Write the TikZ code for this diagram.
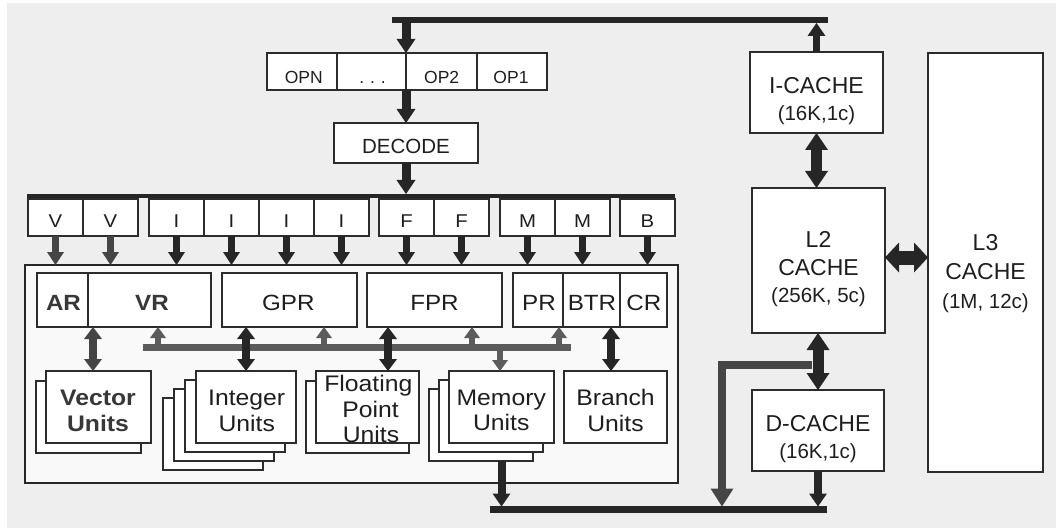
\documentclass[tikz,border=0pt]{standalone}
\usepackage{fontspec}
\setmainfont{Liberation Sans}
\newfontfamily\corefont[FakeStretch=1.1]{Liberation Sans}
\usetikzlibrary{arrows.meta}
\definecolor{bg}{HTML}{EEEEEE}
\definecolor{ink}{HTML}{1E1E1E}
\definecolor{boldink}{HTML}{383838}
\definecolor{edge}{HTML}{2C2C2C}
\definecolor{darkline}{HTML}{262626}
\definecolor{midgray}{HTML}{5C5C5C}
\definecolor{deepgray}{HTML}{454545}
\definecolor{corefill}{HTML}{F9F9F9}
% font sizes
\newcommand\fcore{\corefont\fontsize{22.5}{26}\selectfont}
\newcommand\freg{\corefont\fontsize{22}{26}\selectfont}
\newcommand\fslot{\corefont\fontsize{18.5}{20}\selectfont}
\newcommand\fop{\fontsize{17.5}{20}\selectfont}
\newcommand\fdec{\fontsize{20.5}{24}\selectfont}
\newcommand\fct{\fontsize{23}{27}\selectfont}
\newcommand\fcs{\fontsize{20.5}{24}\selectfont}
% rectangle node from its corners: name, x0, y0, x1, y1, extra options
\newcommand\Blk[6]{\node[blk,minimum width={(#4)-(#2)},minimum height={(#5)-(#3)},#6] (#1) at ({((#2)+(#4))/2},{((#3)+(#5))/2}) {};}
\begin{document}
\begin{tikzpicture}[x=1pt,y=-1pt,
  blk/.style={draw=edge,line width=1.3pt,fill=white,inner sep=0pt,outer sep=0pt,rectangle},
  lbl/.style={anchor=base,inner sep=0pt,outer sep=0pt,text=ink},
  bar/.style={draw=darkline,line cap=butt},
  flow/.style={draw=darkline,line width=9pt,-{Triangle[width=19pt,length=14pt,line width=0pt]}},
  issue/.style={draw=darkline,line width=7.5pt,-{Triangle[width=17pt,length=13pt,line width=0pt]}},
  issuev/.style={issue,draw=deepgray},
  link/.style={draw=darkline,line width=7.5pt,{Triangle[width=18pt,length=12pt,line width=0pt]}-{Triangle[width=18pt,length=12pt,line width=0pt]}},
  linkv/.style={link,draw=deepgray},
  tap/.style={draw=midgray,line width=6pt,-{Triangle[width=16pt,length=11pt,line width=0pt]}},
  store/.style={draw=darkline,line width=8pt,-{Triangle[width=18pt,length=13pt,line width=0pt]}},
  cachelink/.style={draw=darkline,line width=11pt,{Triangle[width=23pt,length=17pt,line width=0pt]}-{Triangle[width=23pt,length=17pt,line width=0pt]}},
  widelink/.style={draw=darkline,line width=14pt,{Triangle[width=30pt,length=14pt,line width=0pt]}-{Triangle[width=30pt,length=14pt,line width=0pt]}},
  bypass/.style={draw=deepgray,line width=8pt,line join=miter,-{Triangle[width=23pt,length=18pt,line width=0pt]}}
]
\useasboundingbox (0,0) rectangle (1056,529);
\fill[bg] (7,3) rectangle (1056,528);

% ---------- instruction fetch buses ----------
\coordinate (tbw) at (392,20);
\coordinate (tbe) at (828,20);
\coordinate (tbout) at (406,23);
\draw[bar,line width=6pt] (tbw) -- (tbe);

% operand queue
\Blk{opn}{267}{53}{337}{90}{}
\Blk{opdots}{337}{53}{406}{90}{}
\Blk{optwo}{406}{53}{477}{90}{}
\Blk{opone}{477}{53}{547}{90}{}
\node[lbl,font=\fop] (opnt) at (303.8,83.3) {OPN};
\node[lbl,font=\fop] (opdotst) at (372.5,83.3) {.\,\,.\,\,.};
\node[lbl,font=\fop] (optwot) at (441.7,83.3) {OP2};
\node[lbl,font=\fop] (oponet) at (511,83.3) {OP1};

% decoder
\Blk{decode}{334}{123}{478}{163}{}
\node[lbl,font=\fdec] (decodet) at (406,154) {DECODE};

\draw[flow] (tbout) -- (opdots.north east);
\draw[flow] (opdots.south east) -- (decode.north);

% issue bus
\coordinate (dbw) at (27,196);
\coordinate (dbe) at (675,196);
\coordinate (dbin) at (406,194);
\draw[bar,line width=4pt] (dbw) -- (dbe);
\draw[flow] (decode.south) -- (dbin);

% ---------- core ----------
\Blk{core}{25}{265}{678}{483}{fill=corefill,draw=darkline,line width=2.4pt}

% issue slots
\foreach \n/\t/\a in {v1/V/28,v2/V/83,i1/I/149,i2/I/204,i3/I/259,i4/I/314,f1/F/379,f2/F/434,m1/M/500,m2/M/555,b1/B/620}{
  \Blk{\n}{\a}{199}{\a+55}{236}{}
  \node[lbl,font=\fslot] (\n t) at ({\a+27.5},228) {\t};
}
\foreach \n in {v1,v2}{\draw[issuev] (\n.south) -- (\n.south |- core.north);}
\foreach \n in {i1,i2,i3,i4,f1,f2,m1,m2,b1}{\draw[issue] (\n.south) -- (\n.south |- core.north);}

% register files
\Blk{ar}{37}{273}{88}{327}{}
\Blk{vr}{88}{273}{211}{327}{}
\Blk{gpr}{222}{273}{357}{327}{}
\Blk{fpr}{367}{273}{502}{327}{}
\Blk{pr}{513}{273}{563}{327}{}
\Blk{btr}{563}{273}{620}{327}{}
\Blk{cr}{620}{273}{667}{327}{}
\node[lbl,font=\freg\bfseries,text=boldink] (art) at (63.5,310) {AR};
\node[lbl,font=\freg\bfseries,text=boldink] (vrt) at (152,310) {VR};
\node[lbl,font=\freg] (gprt) at (288.3,310) {GPR};
\node[lbl,font=\freg] (fprt) at (434.5,310) {FPR};
\node[lbl,font=\freg] (prt) at (539,310) {PR};
\node[lbl,font=\freg] (btrt) at (592,310) {BTR};
\node[lbl,font=\freg] (crt) at (643.8,310) {CR};

% internal transfer bus
\coordinate (ibw) at (143,347.5);
\coordinate (ibe) at (571,347.5);
\draw[bar,draw=midgray,line width=7pt] (ibw) -- (ibe);
\coordinate (ib1) at (158,344);
\coordinate (ib2) at (324,344);
\coordinate (ib3) at (472,344);
\coordinate (ib4) at (559,344);
\coordinate (ib5) at (500,351);
\draw[tap] (ib1) -- (ib1 |- vr.south);
\draw[tap] (ib2) -- (ib2 |- gpr.south);
\draw[tap] (ib3) -- (ib3 |- fpr.south);
\draw[tap] (ib4) -- (ib4 |- pr.south);

% execution units
\Blk{vecb}{36}{381}{141}{453}{}
\Blk{vecu}{46}{371}{151}{443}{}
\Blk{intb3}{163}{398}{263}{470}{}
\Blk{intb2}{174}{389}{274}{461}{}
\Blk{intb1}{185}{380}{285}{452}{}
\Blk{intu}{196}{371}{296}{443}{}
\Blk{fpb}{306}{381}{409}{453}{}
\Blk{fpu}{316}{371}{419}{443}{}
\Blk{memb2}{429}{389}{533}{461}{}
\Blk{memb1}{439}{380}{543}{452}{}
\Blk{memu}{449}{371}{554}{443}{}
\Blk{bru}{564}{371}{667}{443}{}

\node[lbl,font=\fcore\bfseries,text=boldink] (vect1) at (98,405) {Vector};
\node[lbl,font=\fcore\bfseries,text=boldink] (vect2) at (98,431.7) {Units};
\node[lbl,font=\fcore] (intt1) at (246.7,405) {Integer};
\node[lbl,font=\fcore] (intt2) at (246.7,431.7) {Units};
\node[lbl,font=\fcore] (fpt1) at (368.3,391.7) {Floating};
\node[lbl,font=\fcore] (fpt2) at (370.6,417.3) {Point};
\node[lbl,font=\fcore] (fpt3) at (371,442.7) {Units};
\node[lbl,font=\fcore] (memt1) at (501.3,405) {Memory};
\node[lbl,font=\fcore] (memt2) at (501.3,430.7) {Units};
\node[lbl,font=\fcore] (brt1) at (615.5,405) {Branch};
\node[lbl,font=\fcore] (brt2) at (615.5,431) {Units};

% register <-> unit links
\draw[linkv] ([xshift=5]vr.south west) -- ([xshift=5]vr.south west |- vecu.north);
\draw[link] (intu.north |- gpr.south) -- (intu.north);
\draw[link] ([xshift=20.5]fpu.north |- fpr.south) -- ([xshift=20.5]fpu.north);
\draw[link] ([xshift=-4.5]bru.north |- btr.south) -- ([xshift=-4.5]bru.north);
\draw[tap] (ib5) -- (ib5 |- memu.north);

% ---------- data return bus ----------
\coordinate (bbw) at (490,509.5);
\coordinate (bbe) at (827,509.5);
\coordinate (bbtop) at (0,506.5);
\draw[bar,line width=6.5pt] (bbw) -- (bbe);
\draw[store] (memu.south |- memb2.south) -- (memu.south |- bbtop);

% ---------- caches ----------
\Blk{icache}{750}{52}{883}{133}{}
\Blk{ltwo}{752}{188}{885}{333}{}
\Blk{dcache}{752}{390}{884}{471}{}
\Blk{lthree}{928}{53}{1043}{472}{}

\node[lbl,font=\fct] (ict1) at (816.5,93.3) {I-CACHE};
\node[lbl,font=\fcs] (ict2) at (816.5,120.5) {(16K,1c)};
\node[lbl,font=\fct] (l2t1) at (818.5,247.5) {L2};
\node[lbl,font=\fct] (l2t2) at (818.5,275) {CACHE};
\node[lbl,font=\fcs] (l2t3) at (818.5,302) {(256K, 5c)};
\node[lbl,font=\fct] (l3t1) at (985.5,250) {L3};
\node[lbl,font=\fct] (l3t2) at (985.5,279.5) {CACHE};
\node[lbl,font=\fcs] (l3t3) at (985.5,308) {(1M, 12c)};
\node[lbl,font=\fct] (dct1) at (818,431) {D-CACHE};
\node[lbl,font=\fcs] (dct2) at (818,458.5) {(16K,1c)};

% bypass from the L2/D-cache link to the return bus
\coordinate (bytap) at (812,365);
\coordinate (bycorner) at (722,365);
\draw[bypass] (bytap) -- (bycorner) -- (bycorner |- bbtop);

\draw[store,line width=7pt] (icache.north) -- (icache.north |- tbout);
\draw[cachelink] (icache.south) -- (icache.south |- ltwo.north);
\draw[cachelink] (dcache.north |- ltwo.south) -- (dcache.north);
\draw[store] (dcache.south) -- (dcache.south |- bbtop);
\draw[widelink] ([yshift=3]ltwo.east) -- ([yshift=3]ltwo.east -| lthree.west);
\end{tikzpicture}
\end{document}
